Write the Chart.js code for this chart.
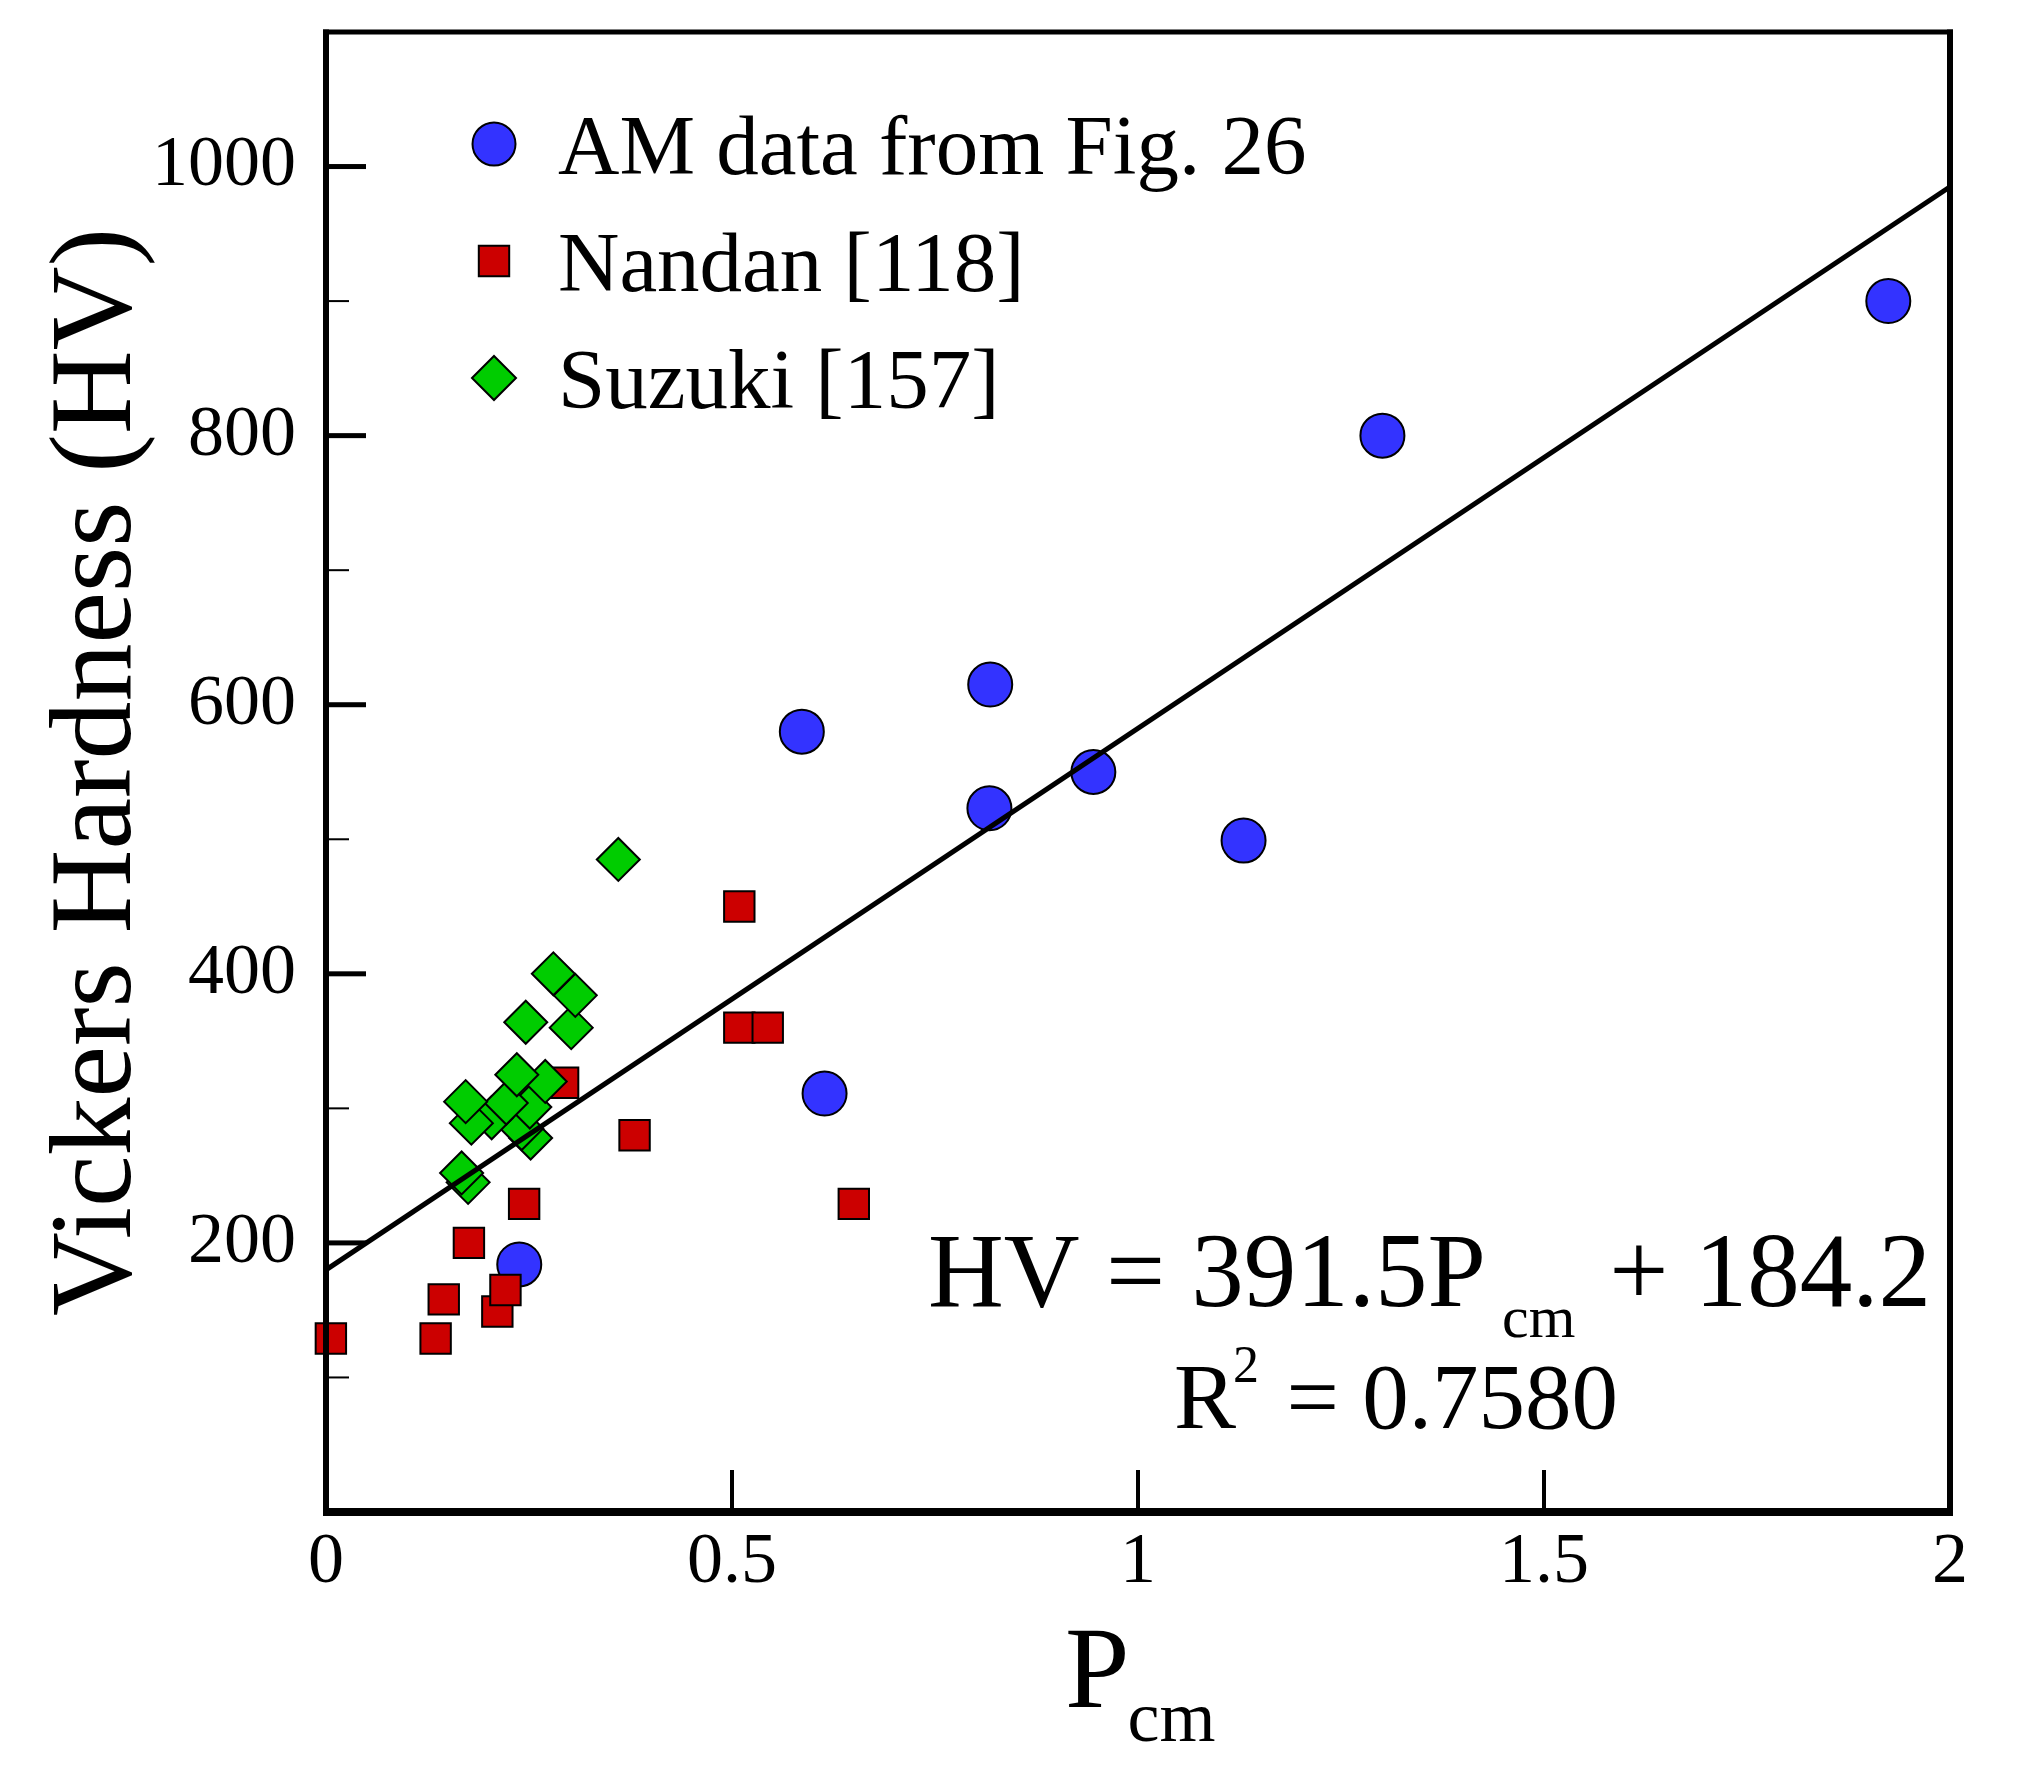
<!DOCTYPE html>
<html><head><meta charset="utf-8">
<script src="https://cdn.jsdelivr.net/npm/chart.js@4.4.1/dist/chart.umd.min.js"></script>
<style>html,body{margin:0;padding:0;background:#fff;overflow:hidden}canvas{display:block}</style>
</head><body>
<canvas id="c" width="2019" height="1770"></canvas>
<script>
// ---- data ----
const amX = [0.238, 0.586, 0.614, 0.817, 0.818, 0.945, 1.130, 1.301, 1.924];
const amY = [184, 580, 311, 523, 615, 550, 499, 800, 900];

const nandanX = [0.006, 0.135, 0.145, 0.176, 0.211, 0.221, 0.244, 0.292, 0.380, 0.509, 0.509, 0.544, 0.650];
const nandanY = [129, 129, 158, 200, 149, 165, 229, 319, 280, 450, 360, 360, 229];

const suzukiX = [0.175, 0.167, 0.252, 0.241, 0.204, 0.179, 0.251, 0.222, 0.172, 0.270, 0.235, 0.302, 0.246, 0.307, 0.280, 0.360];
const suzukiY = [245, 252, 278, 285, 293, 289, 301, 304, 305, 320, 325, 360, 364, 384, 400, 485];

const fitX = [0, 2];
const fitY = [180, 985];

const xTicks = [0, 0.5, 1, 1.5, 2];
const xTickLabels = ['0', '0.5', '1', '1.5', '2'];
const yMajorTicks = [200, 400, 600, 800, 1000];
const yMinorTicks = [100, 300, 500, 700, 900];
const legendLabels = ['AM data from Fig. 26', 'Nandan [118]', 'Suzuki [157]'];

const FONT = '"Liberation Serif", "Times New Roman", serif';
const toPoints = (xs, ys) => xs.map((x, i) => ({x: x, y: ys[i]}));

const COL_AM = '#3333ff', COL_N = '#cc0000', COL_S = '#00cc00';

const legendItems = [
  {text: legendLabels[0], style: 'circle', radius: 21.5, color: COL_AM},
  {text: legendLabels[1], style: 'rect', radius: 21.5, color: COL_N},
  {text: legendLabels[2], style: 'rectRot', radius: 22, color: COL_S}
];

function marker(ctx, style, r, cx, cy, fill) {
  ctx.save();
  ctx.fillStyle = fill; ctx.strokeStyle = '#000'; ctx.lineWidth = 2;
  if (Chart.helpers && Chart.helpers.drawPoint) {
    Chart.helpers.drawPoint(ctx, {pointStyle: style, radius: r, rotation: 0, borderWidth: 2}, cx, cy);
  } else {
    ctx.beginPath();
    if (style === 'circle') ctx.arc(cx, cy, r, 0, Math.PI * 2);
    else if (style === 'rect') { const s = r * Math.SQRT1_2; ctx.rect(cx - s, cy - s, 2 * s, 2 * s); }
    else { ctx.moveTo(cx - r, cy); ctx.lineTo(cx, cy - r); ctx.lineTo(cx + r, cy); ctx.lineTo(cx, cy + r); ctx.closePath(); }
    ctx.fill(); ctx.stroke();
  }
  ctx.restore();
}

const decor = {
  id: 'decor',
  afterDraw(chart) {
    const ctx = chart.ctx, a = chart.chartArea, xs = chart.scales.x, ys = chart.scales.y;
    const L = a.left, R = a.right, T = a.top, B = a.bottom;
    ctx.save();
    ctx.fillStyle = '#000';
    // frame
    ctx.fillRect(L - 3, T - 2.5, 6, B - T + 6.5);
    ctx.fillRect(R - 3, T - 2.5, 6, B - T + 6.5);
    ctx.fillRect(L - 3, T - 2.5, R - L + 6, 5);
    ctx.fillRect(L - 3, B - 4, R - L + 6, 8);
    // y ticks
    yMajorTicks.forEach(v => { const p = ys.getPixelForValue(v); ctx.fillRect(L, p - 2.5, 40, 5); });
    yMinorTicks.forEach(v => { const p = ys.getPixelForValue(v); ctx.fillRect(L, p - 1, 23, 2); });
    // x ticks
    xTicks.forEach(v => {
      if (v === xs.min || v === xs.max) return;
      const p = xs.getPixelForValue(v); ctx.fillRect(p - 2, B - 42, 4, 42);
    });

    ctx.textBaseline = 'alphabetic';
    ctx.fillStyle = '#000';
    // y title
    ctx.save();
    ctx.translate(130, (T + B) / 2);
    ctx.rotate(-Math.PI / 2);
    ctx.textAlign = 'center';
    ctx.font = '116px ' + FONT;
    ctx.fillText('Vickers Hardness (HV)', 0, 0);
    ctx.restore();

    // x title P_cm
    ctx.textAlign = 'left';
    ctx.font = '116px ' + FONT;
    ctx.fillText('P', 1065, 1707);
    const pw = ctx.measureText('P').width;
    ctx.font = '72px ' + FONT;
    ctx.fillText('cm', 1065 + pw - 2, 1741);

    // equation
    ctx.font = '105px ' + FONT;
    ctx.fillText('HV = 391.5P', 928, 1306);
    ctx.font = '60px ' + FONT;
    ctx.fillText('cm', 1502, 1337);
    ctx.font = '105px ' + FONT;
    ctx.textAlign = 'right';
    ctx.fillText('+ 184.2', 1931, 1306);

    // R^2
    ctx.textAlign = 'left';
    ctx.font = '93px ' + FONT;
    ctx.fillText('R', 1174, 1428);
    ctx.font = '52px ' + FONT;
    ctx.fillText('2', 1233, 1382);
    ctx.font = '93px ' + FONT;
    ctx.textAlign = 'right';
    ctx.fillText('= 0.7580', 1618, 1428);

    // legend
    ctx.textAlign = 'left';
    ctx.font = '85px ' + FONT;
    legendItems.forEach((it, i) => {
      const cy = 144 + i * 117;
      marker(ctx, it.style, it.radius, 494, cy, it.color);
      ctx.fillStyle = '#000';
      ctx.fillText(it.text, 558, cy + 30);
    });
    ctx.restore();
  }
};

const tickFont = {family: FONT, size: 72};

new Chart(document.getElementById('c'), {
  type: 'scatter',
  data: {
    datasets: [
      {label: 'fit', type: 'line', data: toPoints(fitX, fitY), borderColor: '#000', borderWidth: 5,
       pointRadius: 0, pointHoverRadius: 0, fill: false, tension: 0, order: 0},
      {label: legendLabels[2], data: toPoints(suzukiX, suzukiY), pointStyle: 'rectRot', pointRadius: 21.5,
       pointHoverRadius: 21.5, backgroundColor: COL_S, borderColor: '#000', borderWidth: 2, order: 1, clip: false},
      {label: legendLabels[1], data: toPoints(nandanX, nandanY), pointStyle: 'rect', pointRadius: 21.5,
       pointHoverRadius: 21.5, backgroundColor: COL_N, borderColor: '#000', borderWidth: 2, order: 2, clip: false},
      {label: legendLabels[0], data: toPoints(amX, amY), pointStyle: 'circle', pointRadius: 22,
       pointHoverRadius: 22, backgroundColor: COL_AM, borderColor: '#000', borderWidth: 2, order: 3, clip: false}
    ]
  },
  options: {
    responsive: false,
    devicePixelRatio: 1,
    animation: false,
    events: [],
    layout: {padding: {top: 32, right: 69, left: 0, bottom: 0}},
    plugins: {legend: {display: false}, tooltip: {enabled: false}, title: {display: false}},
    scales: {
      x: {
        type: 'linear', min: 0, max: 2,
        afterBuildTicks: s => { s.ticks = xTicks.map(v => ({value: v})); },
        afterFit: s => { s.height = 258; s.paddingLeft = 0; s.paddingRight = 0; },
        ticks: {callback: (v, i) => xTickLabels[i], font: tickFont, color: '#000', padding: 0, maxRotation: 0, autoSkip: false},
        grid: {display: false}, border: {display: false}
      },
      y: {
        type: 'linear', min: 0, max: 1100,
        afterBuildTicks: s => { s.ticks = yMajorTicks.map(v => ({value: v})); },
        afterFit: s => { s.width = 326; s.paddingTop = 0; s.paddingBottom = 0; },
        ticks: {callback: v => String(v), font: tickFont, color: '#000', padding: 22, autoSkip: false},
        grid: {display: false}, border: {display: false}
      }
    }
  },
  plugins: [decor]
});
</script>
</body></html>
